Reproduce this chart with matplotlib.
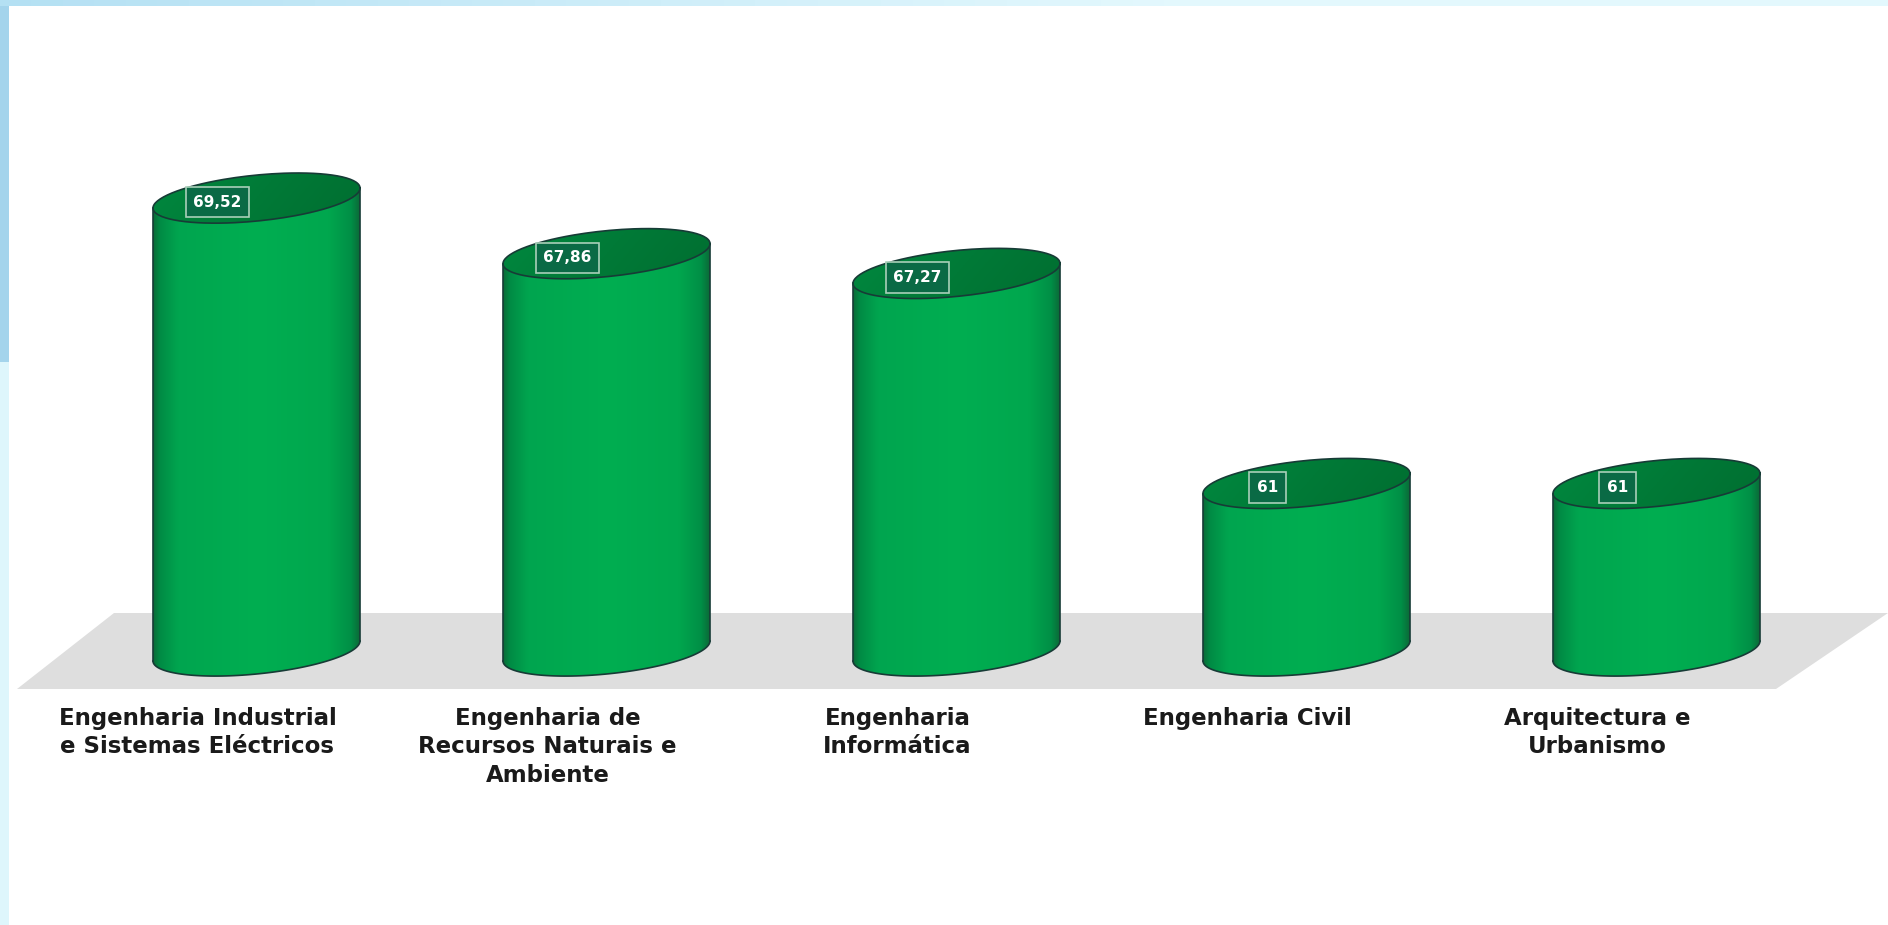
import numpy as np
import matplotlib
matplotlib.use('Agg')
import matplotlib.pyplot as plt
from matplotlib.patches import Polygon, Rectangle
from matplotlib.colors import LinearSegmentedColormap, to_rgb
import matplotlib.transforms as mtransforms

# ---------------- data ----------------
categories = [
    "Engenharia Industrial\ne Sistemas Eléctricos",
    "Engenharia de\nRecursos Naturais e\nAmbiente",
    "Engenharia\nInformática",
    "Engenharia Civil",
    "Arquitectura e\nUrbanismo",
]
values = [69.52, 67.86, 67.27, 61, 61]
value_labels = ["69,52", "67,86", "67,27", "61", "61"]
base_value = 56

# ---------------- figure ----------------
W, H = 1888, 925
DPI = 100
fig = plt.figure(figsize=(W / DPI, H / DPI), dpi=DPI)
fig.patch.set_facecolor('white')

ax = fig.add_axes([0, 0, 1, 1])
ax.patch.set_visible(False)
ax.axis('off')

px_per_x = 350.0     # pixels per category step
px_per_y = 33.5      # pixels per value unit
first_center_px = 256.5
base_px_from_top = 651.0
x0 = -first_center_px / px_per_x
ax.set_xlim(x0, x0 + W / px_per_x)
y0 = base_value - (H - base_px_from_top) / px_per_y
ax.set_ylim(y0, y0 + H / px_per_y)


def fx(px):
    return px / W


def fy(py_top):
    return (H - py_top) / H


# ---------------- background decorations ----------------
strip_w = 9
fig.patches.append(Rectangle((0, fy(362)), fx(strip_w), 1 - fy(362), transform=fig.transFigure,
                             facecolor='#a4d4ec', edgecolor='none', zorder=0))
fig.patches.append(Rectangle((0, 0), fx(strip_w), fy(362), transform=fig.transFigure,
                             facecolor='#def6fc', edgecolor='none', zorder=0))
c_left = np.array(to_rgb('#b4e0f3'))
c_right = np.array(to_rgb('#e3f8fd'))
nseg = 60
for i in range(nseg):
    t = i / (nseg - 1)
    k = min(1, t * 1.6)
    col = c_left * (1 - k) + c_right * k
    fig.patches.append(Rectangle((i / nseg, fy(6)), 1 / nseg + 0.001, 1 - fy(6),
                                 transform=fig.transFigure, facecolor=col,
                                 edgecolor='none', zorder=0))

floor = Polygon([(fx(17), fy(689)), (fx(1776), fy(689)), (fx(1888), fy(613)),
                 (fx(114), fy(613))], closed=True, transform=fig.transFigure,
                facecolor='#dedede', edgecolor='none', zorder=0.5, clip_on=False)
ax.add_patch(floor)

# ---------------- cylinders ----------------
a_d = 103.5 / px_per_x
b_d = 23.0 / px_per_y
sh_d = 10.0 / px_per_y

body_cmap = LinearSegmentedColormap.from_list('body', [
    (0.0, '#0b6b38'), (0.03, '#008a44'), (0.12, '#00a54f'), (0.5, '#00ae51'),
    (0.85, '#00a74e'), (0.96, '#008e46'), (1.0, '#0b6b38')])
top_cmap = LinearSegmentedColormap.from_list('top', [
    (0.0, '#008a40'), (0.5, '#007a37'), (1.0, '#006d30')])

outline = '#173b36'


def ell(xc, yc, t):
    return xc + a_d * np.cos(t), yc + b_d * np.sin(t) + sh_d * np.cos(t)


for i, (v, lab) in enumerate(zip(values, value_labels)):
    xc = i
    t_front = np.linspace(np.pi, 2 * np.pi, 80)
    bx, by = ell(xc, base_value, t_front)
    tx, ty = ell(xc, v, t_front[::-1])
    verts = np.vstack([np.column_stack([bx, by]), np.column_stack([tx, ty])])
    body = Polygon(verts, closed=True, facecolor='none', edgecolor='none', zorder=2)
    ax.add_patch(body)
    grad = np.linspace(0, 1, 256).reshape(1, -1)
    im = ax.imshow(grad, cmap=body_cmap, extent=[xc - a_d, xc + a_d, base_value - 2, v + 2],
                   aspect='auto', interpolation='bilinear', zorder=2)
    im.set_clip_path(body)

    t_all = np.linspace(0, 2 * np.pi, 160)
    ex, ey = ell(xc, v, t_all)
    top = Polygon(np.column_stack([ex, ey]), closed=True, facecolor='none',
                  edgecolor='none', zorder=3)
    ax.add_patch(top)
    gx = np.linspace(0, 1, 256)
    gy = np.linspace(0, 1, 32)
    G = np.clip(0.75 * gx[None, :] + 0.25 * (1 - gy[:, None]), 0, 1)
    im2 = ax.imshow(G, cmap=top_cmap, extent=[xc - a_d, xc + a_d, v - 1.2, v + 1.2],
                    aspect='auto', interpolation='bilinear', zorder=3, origin='lower')
    im2.set_clip_path(top)

    ax.plot(ex, ey, color=outline, lw=1.2, zorder=4)
    ax.plot(bx, by, color=outline, lw=1.2, zorder=4)
    ax.plot([xc - a_d, xc - a_d], [base_value - sh_d, v - sh_d], color=outline, lw=1.2, zorder=4)
    ax.plot([xc + a_d, xc + a_d], [base_value + sh_d, v + sh_d], color=outline, lw=1.2, zorder=4)

    off = mtransforms.ScaledTranslation(-39 / DPI, -4 / DPI, fig.dpi_scale_trans)
    ax.text(xc, v, lab, transform=ax.transData + off, ha='center', va='center',
            fontsize=11, fontweight='bold', color='white', zorder=6,
            bbox=dict(boxstyle='square,pad=0.5', facecolor='#0a6a45',
                      edgecolor='#a9cfb9', linewidth=1.2))

# ---------------- category labels ----------------
lab_tr = mtransforms.blended_transform_factory(ax.transData, ax.transAxes) + \
    mtransforms.ScaledTranslation(-59 / DPI, 0, fig.dpi_scale_trans)
for i, c in enumerate(categories):
    ax.text(i, fy(707), c, transform=lab_tr, ha='center', va='top',
            multialignment='center', fontsize=16.5, fontweight='bold',
            color='#1a1a1a', linespacing=1.3, zorder=6)

fig.savefig('out.png', dpi=DPI, facecolor=fig.get_facecolor())
